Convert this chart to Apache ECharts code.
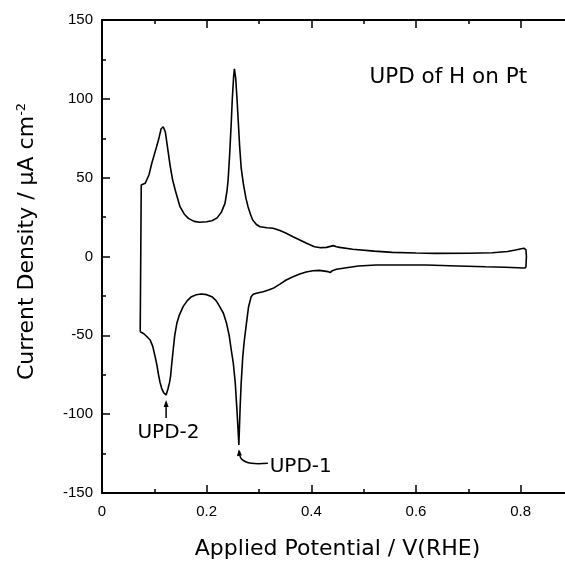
<!DOCTYPE html>
<html>
<head>
<meta charset="utf-8">
<title>UPD of H on Pt</title>
<script src="https://cdn.jsdelivr.net/npm/echarts@6/dist/echarts.min.js"></script>
<style>
  html, body { margin: 0; padding: 0; background: #fff; }
  #chart { width: 565px; height: 561px; }
</style>
</head>
<body>
<div id="chart"></div>
<script>
// 正向扫描（阳极）电位 / V
const anodicPotential = [
  0.073, 0.075, 0.0825, 0.090, 0.095, 0.102, 0.108, 0.113, 0.117, 0.121,
  0.124, 0.130, 0.135, 0.140, 0.149, 0.157, 0.165, 0.176, 0.187, 0.200,
  0.210, 0.220, 0.228, 0.235, 0.239, 0.241, 0.244, 0.247, 0.249, 0.2515,
  0.253, 0.2555, 0.258, 0.2605, 0.263, 0.266, 0.270, 0.275, 0.279, 0.284,
  0.288, 0.295, 0.302, 0.315, 0.327, 0.340, 0.352, 0.365, 0.378, 0.392,
  0.406, 0.418, 0.429, 0.442, 0.448, 0.454, 0.479, 0.520, 0.555, 0.600,
  0.638, 0.700, 0.746, 0.775, 0.790, 0.806, 0.810, 0.811, 0.810
];
// 正向扫描电流密度 / µA cm-2
const anodicCurrent = [
  -47.7, 45.3, 46.4, 52, 59, 67, 74, 81, 82.3, 79,
  72, 58, 48.5, 42, 31.6, 27, 24.2, 22.3, 21.7, 22,
  22.7, 24.5, 28, 33.7, 42, 48.5, 65, 85, 100, 114,
  119, 113, 100, 85, 70, 56, 46.4, 37, 31.6, 26.5,
  23.1, 20.3, 18.9, 18.2, 17.9, 16.5, 14.7, 12.5, 10.5, 8.2,
  6.2, 5.6, 5.8, 6.9, 6.2, 5.8, 4.6, 3.4, 2.6, 2.2,
  2.0, 2.1, 2.4, 3.2, 4.1, 5.2, 4.4, 0, -7.1
];
// 反向扫描（阴极）电位 / V
const cathodicPotential = [
  0.810, 0.806, 0.770, 0.733, 0.680, 0.619, 0.524, 0.490, 0.467, 0.448,
  0.440, 0.436, 0.432, 0.429, 0.415, 0.403, 0.390, 0.378, 0.365, 0.352,
  0.340, 0.327, 0.318, 0.308, 0.295, 0.289, 0.285, 0.283, 0.280, 0.276,
  0.272, 0.269, 0.266, 0.264, 0.2625, 0.2615, 0.260, 0.258, 0.257, 0.255,
  0.254, 0.251, 0.247, 0.243, 0.238, 0.232, 0.225, 0.218, 0.210, 0.200,
  0.190, 0.180, 0.171, 0.163, 0.155, 0.148, 0.143, 0.139, 0.136, 0.133,
  0.131, 0.129, 0.126, 0.1225, 0.118, 0.114, 0.111, 0.108, 0.105, 0.1015,
  0.097, 0.092, 0.086, 0.080, 0.073
];
// 反向扫描电流密度 / µA cm-2
const cathodicCurrent = [
  -7.1, -7.3, -6.8, -6.5, -6.0, -5.4, -5.4, -6.0, -7.1, -8.1,
  -9.0, -10.2, -9.6, -9.2, -8.8, -9.0, -9.8, -11.1, -12.8, -14.9,
  -17.5, -20.2, -21.3, -22.3, -23.3, -24.0, -25.5, -26.5, -32, -42.4,
  -53, -63.5, -80, -95, -110, -119.5, -110, -98, -93, -82,
  -78, -68, -59.3, -50, -42.4, -36, -31.8, -28, -25.5, -24.2,
  -23.8, -24.3, -25.5, -28, -31.8, -37, -42.4, -50, -59.3, -69,
  -76, -80, -84, -87.8, -86.5, -83.6, -80, -75, -69, -63.5,
  -57, -53, -50.9, -49, -47.7
];

// 坐标轴刻度
const xTicks = { min: 0, max: 0.9, interval: 0.2 };
const yTicks = { min: -150, max: 150, interval: 50 };

const FONT_TICK = 'Liberation Sans';
const FONT_TEXT = 'DejaVu Sans';

let chart = null;

document.addEventListener('DOMContentLoaded', function() {
  chart = echarts.init(document.getElementById('chart'), null, { renderer: 'canvas' });
  chart.setOption(buildOption());
  drawAnnotations();
});

/**
 * 把两组数组拼成 [x, y] 点
 */
function zip(xs, ys) {
  return xs.map((x, i) => [x, ys[i]]);
}

/**
 * 通用坐标轴样式
 */
function axisStyle(showLabel) {
  return {
    axisLine: { show: true, onZero: false, lineStyle: { color: '#000', width: 2 } },
    axisTick: { show: true, inside: true, length: 8, lineStyle: { color: '#000', width: 1.5 } },
    minorTick: { show: true, splitNumber: 2, length: 4, lineStyle: { color: '#000', width: 1.5 } },
    splitLine: { show: false },
    axisLabel: {
      show: showLabel,
      color: '#000',
      fontFamily: FONT_TICK,
      fontSize: 15
    }
  };
}

/**
 * 构建图表配置
 */
function buildOption() {
  const xBottom = Object.assign({
    type: 'value',
    position: 'bottom',
    min: xTicks.min,
    max: xTicks.max,
    interval: xTicks.interval,
    name: 'Applied Potential / V(RHE)',
    nameLocation: 'middle',
    nameGap: 45,
    nameTextStyle: { color: '#000', fontFamily: FONT_TEXT, fontSize: 22 }
  }, axisStyle(true));
  xBottom.axisLabel.margin = 11;
  xBottom.axisLabel.formatter = v => (v > 0.85 ? '' : String(+v.toFixed(1)));

  const xTop = Object.assign({
    type: 'value',
    position: 'top',
    min: xTicks.min,
    max: xTicks.max,
    interval: xTicks.interval
  }, axisStyle(false));

  const yLeft = Object.assign({
    type: 'value',
    position: 'left',
    min: yTicks.min,
    max: yTicks.max,
    interval: yTicks.interval,
    name: '{m|Current Density / µA cm}{s|-2}',
    nameLocation: 'middle',
    nameGap: 62,
    nameTextStyle: {
      padding: [0, 0, 0, 30],
      rich: {
        m: { color: '#000', fontFamily: FONT_TEXT, fontSize: 22 },
        s: { color: '#000', fontFamily: FONT_TEXT, fontSize: 13, padding: [0, 0, 12, 0] }
      }
    }
  }, axisStyle(true));
  yLeft.axisLabel.margin = 9;

  const yRight = Object.assign({
    type: 'value',
    position: 'right',
    min: yTicks.min,
    max: yTicks.max,
    interval: yTicks.interval
  }, axisStyle(false));

  const lineSeries = (name, data) => ({
    name: name,
    type: 'line',
    data: data,
    showSymbol: false,
    symbol: 'none',
    smooth: false,
    lineStyle: { color: '#000', width: 1.6 },
    z: 3
  });

  return {
    animation: false,
    backgroundColor: '#fff',
    // 右侧坐标轴在画面之外（原图被裁切）
    grid: { left: 102, top: 20, width: 471, bottom: 68, outerBoundsMode: 'none', containLabel: false },
    xAxis: [xBottom, xTop],
    yAxis: [yLeft, yRight],
    series: [
      lineSeries('anodic', zip(anodicPotential, anodicCurrent)),
      lineSeries('cathodic', zip(cathodicPotential, cathodicCurrent))
    ]
  };
}

/**
 * 数据坐标 -> 像素
 */
function px(x, y) {
  return chart.convertToPixel({ xAxisIndex: 0, yAxisIndex: 0 }, [x, y]);
}

/**
 * 标注：标题文字、UPD-1 / UPD-2 箭头
 */
function drawAnnotations() {
  const textStyle = (text, pos, size, align) => ({
    type: 'text',
    x: pos[0],
    y: pos[1],
    style: {
      text: text,
      fill: '#000',
      font: `${size}px "${FONT_TEXT}"`,
      align: align || 'left',
      verticalAlign: 'middle'
    },
    z: 10
  });

  // UPD-2 竖直箭头
  const a2Top = px(0.1225, -91);
  const a2Bot = px(0.1225, -102.5);
  // UPD-1 弯曲引线
  const c1 = px(0.2625, -123.5);
  const c2 = px(0.2667, -128.5);
  const c3 = px(0.2857, -131.2);
  const c4 = px(0.317, -131.2);

  const graphics = [
    textStyle('UPD of H on Pt', px(0.511, 113.8), 21.5),
    textStyle('UPD-2', px(0.127, -111.5), 20, 'center'),
    textStyle('UPD-1', px(0.3205, -133.5), 20),
    {
      type: 'line',
      shape: { x1: a2Top[0], y1: a2Top[1] + 4, x2: a2Bot[0], y2: a2Bot[1] },
      style: { stroke: '#000', lineWidth: 1.5 },
      z: 10
    },
    {
      type: 'polygon',
      shape: { points: [[a2Top[0], a2Top[1]], [a2Top[0] - 2.5, a2Top[1] + 7], [a2Top[0] + 2.5, a2Top[1] + 7]] },
      style: { fill: '#000' },
      z: 10
    },
    {
      type: 'polyline',
      shape: { points: [c1, c2, c3, c4], smooth: 0.35 },
      style: { stroke: '#000', lineWidth: 1.5, fill: null },
      z: 10
    },
    {
      type: 'polygon',
      shape: { points: [[c1[0] - 0.5, c1[1] - 2], [c1[0] - 2.5, c1[1] + 5], [c1[0] + 2.5, c1[1] + 4]] },
      style: { fill: '#000' },
      z: 10
    }
  ];

  chart.setOption({ graphic: graphics });
}
</script>
</body>
</html>
